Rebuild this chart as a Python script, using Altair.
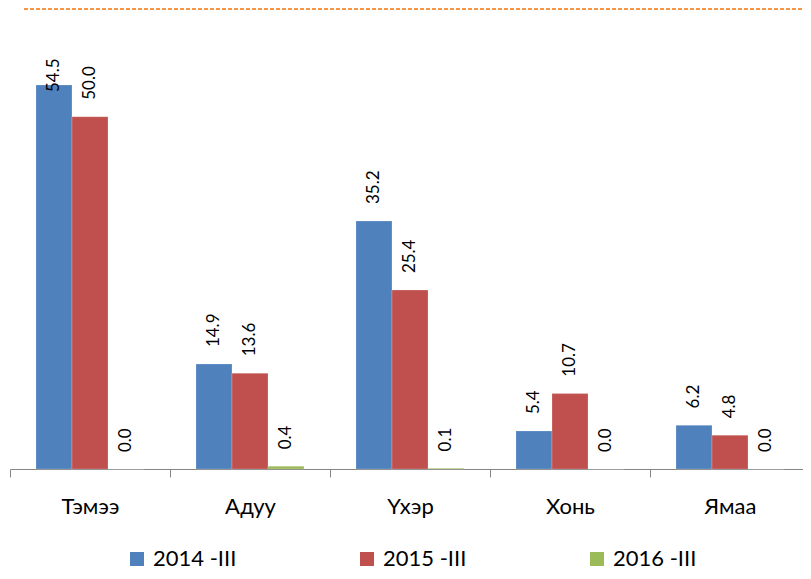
import altair as alt
import pandas as pd

categories = ["Тэмээ", "Адуу", "Үхэр", "Хонь", "Ямаа"]
series = ["2014 -III", "2015 -III", "2016 -III"]
v2014 = [54.5, 14.9, 35.2, 5.4, 6.2]
v2015 = [50.0, 13.6, 25.4, 10.7, 4.8]
v2016 = [0.0, 0.4, 0.1, 0.0, 0.0]
colors = ["#4F81BD", "#C0504D", "#9BBB59"]

rows = []
for s, vals in zip(series, [v2014, v2015, v2016]):
    for c, v in zip(categories, vals):
        rows.append({"cat": c, "series": s, "value": v})
df = pd.DataFrame(rows)

FONT = "Lato"
H = 461
ymax = H / 7.046

x = alt.X("cat:N", sort=categories, title=None,
          scale=alt.Scale(paddingInner=0, paddingOuter=0),
          axis=alt.Axis(labelAngle=0, labelFont=FONT, labelFontSize=22, labelColor="#000000",
                        domainColor="#868686", tickColor="#868686", tickSize=8,
                        tickBand="extent", labelPadding=19, grid=False))
y = alt.Y("value:Q", scale=alt.Scale(domain=[0, ymax], nice=False), axis=None)
xoff = alt.XOffset("series:N", sort=series, scale=alt.Scale(paddingOuter=0.722, paddingInner=0))

bars = alt.Chart(df).mark_bar(stroke="#ffffff", strokeOpacity=0.35, strokeWidth=0.6).encode(
    x=x, xOffset=xoff, y=y,
    color=alt.Color("series:N", sort=series,
                    scale=alt.Scale(domain=series, range=colors),
                    legend=alt.Legend(title=None, orient="none", direction="horizontal",
                                      legendX=116, legendY=540,
                                      symbolType="square", symbolSize=196,
                                      symbolStrokeWidth=0, labelFont=FONT,
                                      labelFontSize=22, labelColor="#000000",
                                      labelOffset=5, columnPadding=119,
                                      labelLimit=200)),
)

labels = alt.Chart(df).transform_calculate(
    lpos="min(datum.value + 2.4, 53.5)"
).mark_text(angle=270, align="left", baseline="middle", font=FONT, fontSize=17,
            color="#000000").encode(
    x=x, xOffset=xoff,
    y=alt.Y("lpos:Q", scale=alt.Scale(domain=[0, ymax], nice=False), axis=None),
    text=alt.Text("value:Q", format=".1f"),
)

topline = alt.Chart(pd.DataFrame({"a": [0]})).mark_rule(
    color="#F79646", strokeDash=[4, 2], strokeWidth=2
).encode(x=alt.value(14), x2=alt.value(800), y=alt.value(1))

chart = alt.layer(bars, labels, topline).properties(
    width=800, height=H,
    autosize=alt.AutoSizeParams(type="none"),
    padding={"left": 2, "top": 0, "right": -7, "bottom": 102},
    background="#ffffff",
).configure_view(stroke=None)

chart.save("out.html", embed_options={"renderer": "svg", "actions": False})
